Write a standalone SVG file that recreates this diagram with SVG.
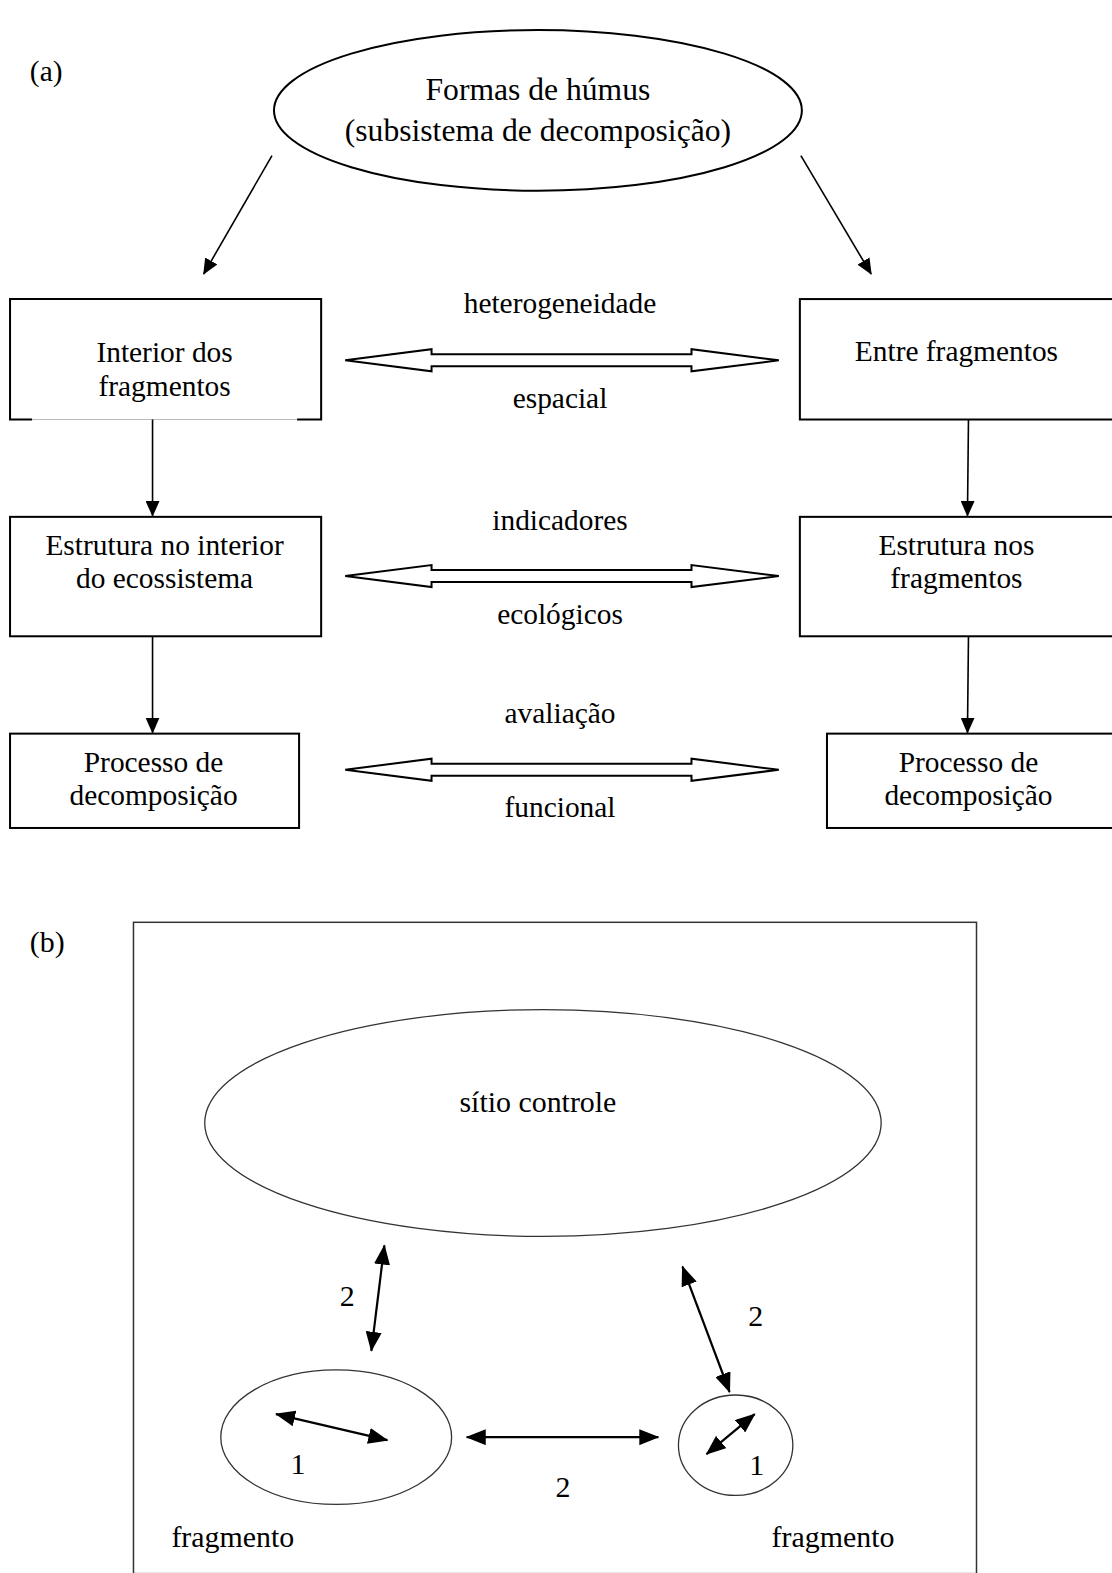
<svg xmlns="http://www.w3.org/2000/svg" width="1112" height="1573" viewBox="0 0 1112 1573">
<style>
  .t { font-family: "Liberation Serif", "Times New Roman", serif; font-size: 29.3px; fill: #000; text-anchor: middle; }
  .te { font-family: "Liberation Serif", "Times New Roman", serif; font-size: 31.5px; fill: #000; text-anchor: middle; }
  .tb { font-family: "Liberation Serif", "Times New Roman", serif; font-size: 29.8px; fill: #000; text-anchor: middle; }
  .box { fill: #fff; stroke: #000; stroke-width: 2; }
  .ln { stroke: #000; stroke-width: 1.6; fill: none; }
  .dbl { fill: #fff; stroke: #000; stroke-width: 2; stroke-linejoin: miter; }
  .thin { fill: none; stroke: #333; stroke-width: 1.3; }
  .ab { stroke: #000; stroke-width: 2.2; fill: none; }
</style>
<defs>
  <marker id="ah" markerUnits="userSpaceOnUse" markerWidth="16" markerHeight="14" viewBox="0 0 16 14" refX="15" refY="7" orient="auto-start-reverse">
    <path d="M0,0 L16,7 L0,14 z" fill="#000"/>
  </marker>
  <marker id="ahb" markerUnits="userSpaceOnUse" markerWidth="20" markerHeight="16" viewBox="0 0 20 16" refX="19" refY="8" orient="auto-start-reverse">
    <path d="M0,0 L20,8 L0,16 z" fill="#000"/>
  </marker>
</defs>
<rect width="1112" height="1573" fill="#fff"/>
<g transform="scale(1.0036)">

<text class="t" x="46" y="81">(a)</text>

<g id="formas">
  <ellipse cx="536" cy="110" rx="263" ry="80" fill="#fff" stroke="#000" stroke-width="2"/>
  <text class="te" x="536" y="100">Formas de húmus</text>
  <text class="te" x="536" y="140">(subsistema de decomposição)</text>
</g>

<g id="interior">
  <path class="box" d="M32,418 L10,418 L10,298 L320,298 L320,418 L296,418" />
  <line x1="32" y1="418" x2="296" y2="418" stroke="#bbb" stroke-width="1"/>
  <text class="t" x="164" y="361">Interior dos</text>
  <text class="t" x="164" y="395">fragmentos</text>
</g>

<g id="entre">
  <rect class="box" x="797" y="298" width="320" height="120"/>
  <text class="t" x="953" y="360">Entre fragmentos</text>
</g>

<g id="estrutura-interior">
  <rect class="box" x="10" y="515" width="310" height="119"/>
  <text class="t" x="164" y="553">Estrutura no interior</text>
  <text class="t" x="164" y="586">do ecossistema</text>
</g>

<g id="estrutura-frag">
  <rect class="box" x="797" y="515" width="320" height="119"/>
  <text class="t" x="953" y="553">Estrutura nos</text>
  <text class="t" x="953" y="586">fragmentos</text>
</g>

<g id="processo-l">
  <rect class="box" x="10" y="731" width="288" height="94"/>
  <text class="t" x="153" y="769">Processo de</text>
  <text class="t" x="153" y="802">decomposição</text>
</g>

<g id="processo-r">
  <rect class="box" x="824" y="731" width="293" height="94"/>
  <text class="t" x="965" y="769">Processo de</text>
  <text class="t" x="965" y="802">decomposição</text>
</g>

<g id="connectors-a">
  <line class="ln" x1="271" y1="155" x2="203" y2="273" marker-end="url(#ah)"/>
  <line class="ln" x1="798" y1="155" x2="868" y2="273" marker-end="url(#ah)"/>
  <line class="ln" x1="152" y1="418" x2="152" y2="514" marker-end="url(#ah)"/>
  <line class="ln" x1="965" y1="418" x2="964" y2="514" marker-end="url(#ah)"/>
  <line class="ln" x1="152" y1="634" x2="152" y2="730" marker-end="url(#ah)"/>
  <line class="ln" x1="965" y1="634" x2="964" y2="730" marker-end="url(#ah)"/>
  <polygon class="dbl" points="344,359 430,348 430,353 689,353 689,348 776,359 689,370 689,365 430,365 430,370"/>
  <polygon class="dbl" points="344,574 430,563 430,568 689,568 689,563 776,574 689,585 689,580 430,580 430,585"/>
  <polygon class="dbl" points="344,767 430,756 430,761 689,761 689,756 776,767 689,778 689,773 430,773 430,778"/>
</g>

<g id="labels-a">
  <text class="t" x="558" y="312">heterogeneidade</text>
  <text class="t" x="558" y="407">espacial</text>
  <text class="t" x="558" y="528">indicadores</text>
  <text class="t" x="558" y="622">ecológicos</text>
  <text class="t" x="558" y="720">avaliação</text>
  <text class="t" x="558" y="814">funcional</text>
</g>

<text class="tb" x="47" y="949">(b)</text>

<g id="frame-b">
  <rect x="133" y="919" width="840" height="649" fill="none" stroke="#333" stroke-width="1.5"/>
</g>

<g id="sitio">
  <ellipse class="thin" cx="541" cy="1119" rx="337" ry="113"/>
  <text class="tb" x="536" y="1108">sítio controle</text>
</g>

<g id="frag-l">
  <ellipse class="thin" cx="335" cy="1432" rx="115" ry="67"/>
  <text class="tb" x="232" y="1541">fragmento</text>
</g>

<g id="frag-r">
  <ellipse class="thin" cx="733" cy="1440" rx="57" ry="50"/>
  <text class="tb" x="830" y="1541">fragmento</text>
</g>

<g id="connectors-b">
  <line class="ab" x1="383" y1="1241" x2="370" y2="1346" marker-start="url(#ahb)" marker-end="url(#ahb)"/>
  <line class="ab" x1="680" y1="1262" x2="727" y2="1387" marker-start="url(#ahb)" marker-end="url(#ahb)"/>
  <line class="ab" x1="275" y1="1409" x2="386" y2="1435" marker-start="url(#ahb)" marker-end="url(#ahb)"/>
  <line class="ab" x1="465" y1="1432" x2="656" y2="1432" marker-start="url(#ahb)" marker-end="url(#ahb)"/>
  <line class="ab" x1="704" y1="1449" x2="752" y2="1409" marker-start="url(#ahb)" marker-end="url(#ahb)"/>
</g>

<g id="labels-b">
  <text class="tb" x="346" y="1301">2</text>
  <text class="tb" x="753" y="1321">2</text>
  <text class="tb" x="297" y="1469">1</text>
  <text class="tb" x="754" y="1470">1</text>
  <text class="tb" x="561" y="1492">2</text>
</g>
</g>
</svg>
